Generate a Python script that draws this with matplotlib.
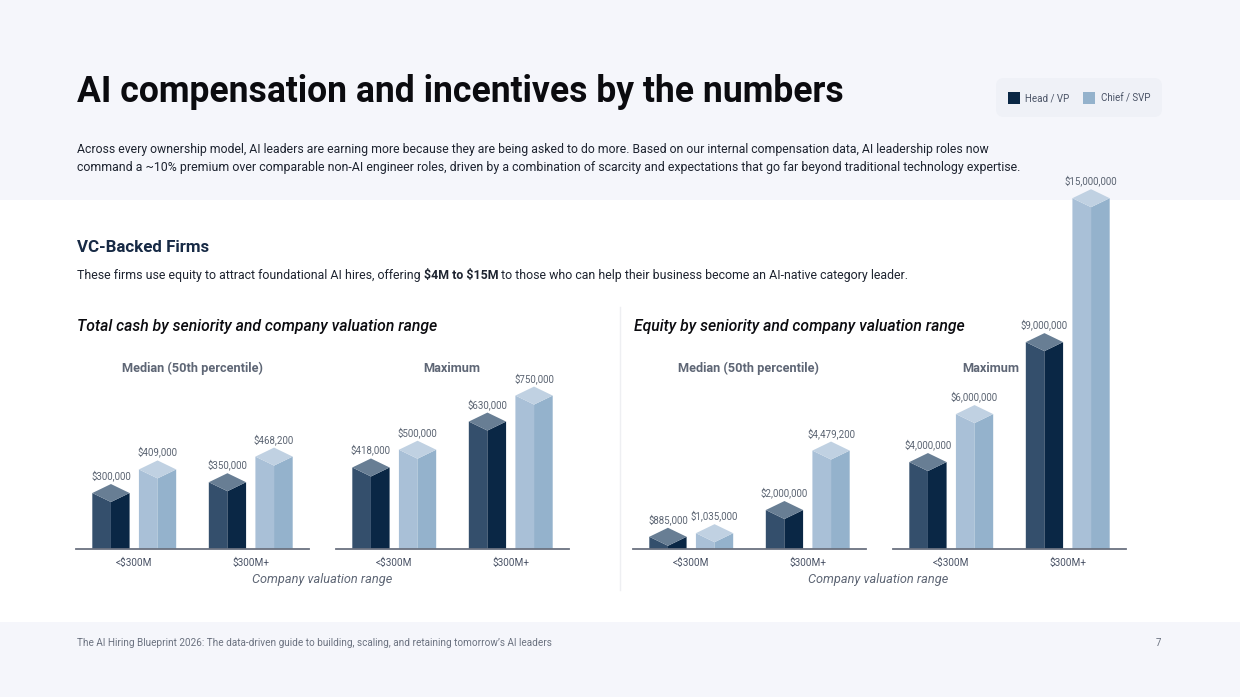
import matplotlib
matplotlib.use("Agg")
import matplotlib.pyplot as plt
from matplotlib.patches import Rectangle, FancyBboxPatch, Polygon

plt.rcParams['font.family'] = ['Roboto', 'DejaVu Sans']
plt.rcParams['text.parse_math'] = False

# ---------------- data ----------------
categories = ["<$300M", "$300M+"]
series_names = ["Head / VP", "Chief / SVP"]
cash_median_head = [300000, 350000]
cash_median_chief = [409000, 468200]
cash_max_head = [418000, 630000]
cash_max_chief = [500000, 750000]
equity_median_head = [885000, 2000000]
equity_median_chief = [1035000, 4479200]
equity_max_head = [4000000, 9000000]
equity_max_chief = [6000000, 15000000]

W, H = 1240, 697
fig = plt.figure(figsize=(W / 100, H / 100), dpi=100)
fig.patch.set_facecolor("white")

bg = fig.add_axes([0, 0, 1, 1], zorder=-1)
bg.set_xlim(0, W)
bg.set_ylim(H, 0)
bg.axis("off")
band = "#F5F6FB"
bg.add_patch(Rectangle((0, 0), W, 200, color=band, lw=0))
bg.add_patch(Rectangle((0, 622), W, 75, color=band, lw=0))
bg.plot([620, 620], [307, 590], color="#EEEFF2", lw=1)

dark = "#0B0B0F"
body = "#1E2430"
gray = "#5B6472"

bg.text(77, 92, "AI compensation and incentives by the numbers", fontsize=25.6,
        fontweight="bold", color=dark, va="center", ha="left")
bg.text(77, 150, "Across every ownership model, AI leaders are earning more because they are being asked to do more. "
        "Based on our internal compensation data, AI leadership roles now",
        fontsize=8.8, color=body, va="center")
bg.text(77, 168, "command a ~10% premium over comparable non-AI engineer roles, driven by a combination of scarcity "
        "and expectations that go far beyond traditional technology expertise.",
        fontsize=8.9, color=body, va="center")

bg.text(77, 247, "VC-Backed Firms", fontsize=12.2, fontweight="bold", color="#172A45", va="center")

# legend box
bg.add_patch(FancyBboxPatch((996, 78), 166, 39, boxstyle="round,pad=0,rounding_size=8",
                            facecolor="#EFF1F7", edgecolor="none"))
head_cols = ("#344F6C", "#0A2745", "#687E94")
chief_cols = ("#A9C0D7", "#94B2CC", "#C0D1E2")
bg.add_patch(Rectangle((1008, 92), 12, 12, color=head_cols[1], lw=0))
bg.text(1025, 98.5, series_names[0], fontsize=7, color="#4A5366", va="center")
bg.add_patch(Rectangle((1083, 92), 12, 12, color=chief_cols[1], lw=0))
bg.text(1101, 98.5, series_names[1], fontsize=7, color="#4A5366", va="center")

# chart section titles
bg.text(77, 327, "Total cash by seniority and company valuation range", fontsize=11.3,
        fontstyle="italic", fontweight="medium", color=dark, va="center")
bg.text(634, 327, "Equity by seniority and company valuation range", fontsize=11.3,
        fontstyle="italic", fontweight="medium", color=dark, va="center")
for x, t in [(192, "Median (50th percentile)"), (452, "Maximum"),
             (749, "Median (50th percentile)"), (991, "Maximum")]:
    bg.text(x, 368, t, fontsize=9.2, fontweight="bold", color="#5E6675", ha="center", va="center")
bg.text(322, 580, "Company valuation range", fontsize=9.2, fontstyle="italic", color="#5E6675",
        ha="center", va="center")
bg.text(878, 580, "Company valuation range", fontsize=9.2, fontstyle="italic", color="#5E6675",
        ha="center", va="center")

bg.text(77, 643, "The AI Hiring Blueprint 2026: The data-driven guide to building, scaling, and retaining "
        "tomorrow\u2019s AI leaders", fontsize=7.2, color="#6B7280", va="center")
bg.text(1158, 643, "7", fontsize=7, color="#6B7280", va="center", ha="center")

# subtitle with bold part
fig.canvas.draw()
r = fig.canvas.get_renderer()
parts = [("These firms use equity to attract foundational AI hires, offering ", "normal"),
         ("$4M to $15M", "bold"),
         (" to those who can help their business become an AI-native category leader.", "normal")]
xcur = 77
for txt, wt in parts:
    t = bg.text(xcur, 276, txt, fontsize=8.95, fontweight=wt, color=body, va="center")
    bb = t.get_window_extent(renderer=r)
    xcur += bb.width * W / fig.bbox.width

# ---------------- charts ----------------
base_y = 549
top_y = 170
ax_h_px = base_y - top_y


def make_chart(x0, x1, head, chief, ytop):
    ax = fig.add_axes([x0 / W, 1 - base_y / H, (x1 - x0) / W, ax_h_px / H])
    ax.set_facecolor("none")
    ax.set_xlim(-0.5, 1.5)
    ax.set_ylim(0, ytop)
    for s in ax.spines.values():
        s.set_visible(False)
    ax.set_yticks([])
    ax.set_xticks(range(len(categories)))
    ax.set_xticklabels(categories, fontsize=7.2, color="#4A5366")
    ax.tick_params(axis="x", length=0, pad=6)
    ax.axhline(0, color="#6B7280", lw=1.3, zorder=5, clip_on=False)
    d = 9.0 * ytop / ax_h_px
    w = 0.32
    for vals, off, cols in [(head, -0.2, head_cols), (chief, 0.2, chief_cols)]:
        for i, v in enumerate(vals):
            xc = i + off
            xa, xb = xc - w / 2, xc + w / 2
            ax.add_patch(Polygon([(xa, 0), (xc, 0), (xc, v - 2 * d), (xa, v - d)],
                                 closed=True, facecolor=cols[0], edgecolor="none"))
            ax.add_patch(Polygon([(xc, 0), (xb, 0), (xb, v - d), (xc, v - 2 * d)],
                                 closed=True, facecolor=cols[1], edgecolor="none"))
            ax.add_patch(Polygon([(xa, v - d), (xc, v - 2 * d), (xb, v - d), (xc, v)],
                                 closed=True, facecolor=cols[2], edgecolor="none"))
            ax.annotate(f"${v:,.0f}", (xc, v), xytext=(0, 6), textcoords="offset points",
                        ha="center", va="center", fontsize=7, color=gray, annotation_clip=False)
    return ax


make_chart(76, 309, cash_median_head, cash_median_chief, 1.75e6)
make_chart(336, 569, cash_max_head, cash_max_chief, 1.75e6)
make_chart(633, 866, equity_median_head, equity_median_chief, 15.8e6)
make_chart(893, 1126, equity_max_head, equity_max_chief, 15.8e6)

fig.savefig("out.png", dpi=100, facecolor=fig.get_facecolor())
